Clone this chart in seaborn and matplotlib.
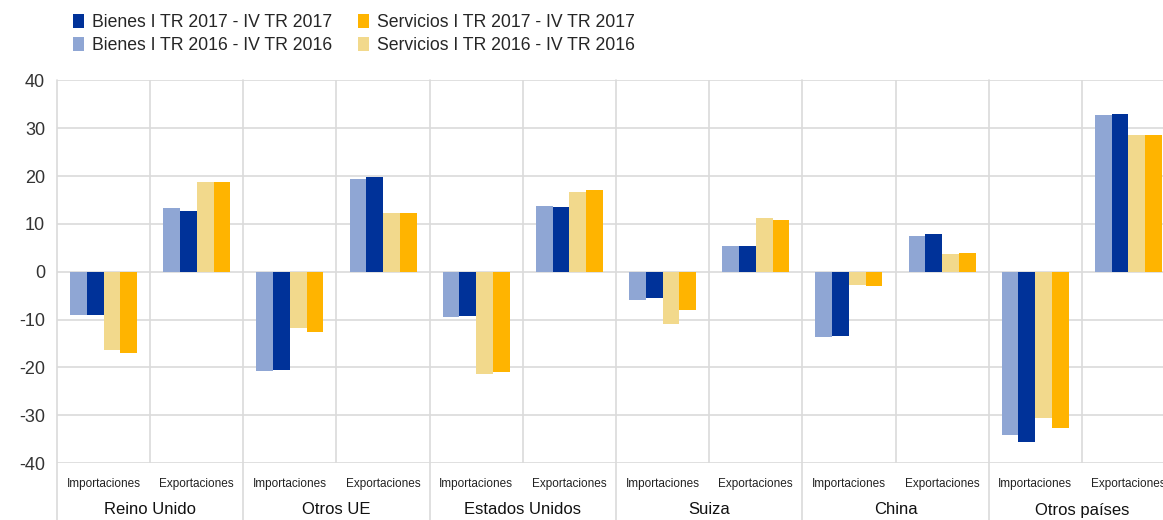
import numpy as np
import pandas as pd
import matplotlib
matplotlib.use("Agg")
import matplotlib.pyplot as plt
import matplotlib.transforms as mtransforms
import seaborn as sns

# data (% values)
countries = ["Reino Unido", "Otros UE", "Estados Unidos", "Suiza", "China", "Otros países"]
flows = ["Importaciones", "Exportaciones"]
bienes_2016 = [-9.0, 13.4, -20.7, 19.3, -9.5, 13.7, -6.0, 5.4, -13.6, 7.4, -34.1, 32.7]
bienes_2017 = [-9.0, 12.7, -20.5, 19.8, -9.3, 13.5, -5.5, 5.4, -13.4, 7.9, -35.6, 33.0]
servicios_2016 = [-16.4, 18.7, -11.8, 12.2, -21.3, 16.6, -11.0, 11.3, -2.8, 3.7, -30.5, 28.7]
servicios_2017 = [-16.9, 18.8, -12.7, 12.2, -21.0, 17.1, -8.0, 10.8, -2.9, 3.9, -32.7, 28.5]
series_names = ["Bienes I TR 2016 - IV TR 2016", "Bienes I TR 2017 - IV TR 2017",
                "Servicios I TR 2016 - IV TR 2016", "Servicios I TR 2017 - IV TR 2017"]
colors = ["#8fa6d4", "#003299", "#f2d98c", "#ffb400"]
yticks = [-40, -30, -20, -10, 0, 10, 20, 30, 40]

cats = [f"{c}|{f}" for c in countries for f in flows]
rows = []
for name, vals in zip(series_names, [bienes_2016, bienes_2017, servicios_2016, servicios_2017]):
    for cat, v in zip(cats, vals):
        rows.append({"cat": cat, "serie": name, "valor": v})
df = pd.DataFrame(rows)

sns.set_style("white")
plt.rcParams["font.family"] = ["Liberation Sans", "DejaVu Sans"]

fig = plt.figure(figsize=(11.63, 5.2), dpi=100)
ax = fig.add_axes([57 / 1163, 57 / 520, 1118 / 1163, 382.5 / 520])

sns.barplot(data=df, x="cat", y="valor", hue="serie", order=cats, hue_order=series_names,
            palette=colors, width=0.72, gap=0, saturation=1, errorbar=None, ax=ax,
            linewidth=0, zorder=3)

ax.set_xlim(-0.5, len(cats) - 0.5)
ax.set_ylim(-40, 40)
ax.set_yticks(yticks)
ax.set_yticklabels([str(t) for t in yticks], fontsize=13, color="#333333")
ax.tick_params(axis="y", length=0, pad=8.5)
ax.set_xticks([])
ax.set_xlabel("")
ax.set_ylabel("")
for s in ax.spines.values():
    s.set_visible(False)

gridc = "#dadada"
for t in yticks:
    ax.axhline(t, color=gridc, lw=1.2, zorder=1)

# group separators run down through the label area
trans = mtransforms.blended_transform_factory(ax.transData, fig.transFigure)
top = 57 / 520 + 382.5 / 520
for i in range(len(cats) + 1):
    xb = i - 0.5
    if i % 2 == 0:
        ax.plot([xb, xb], [0, top], transform=trans, color=gridc, lw=1.2, clip_on=False, zorder=1)
    else:
        ax.axvline(xb, color=gridc, lw=1.2, zorder=1)

for i, cat in enumerate(cats):
    ax.text(i, 1 - 484 / 520, cat.split("|")[1], transform=trans, ha="center", va="center",
            fontsize=8.5, color="#222222")
for j, c in enumerate(countries):
    ax.text(2 * j + 0.5, 1 - 510 / 520, c, transform=trans, ha="center", va="center",
            fontsize=12, color="#111111")

handles, labels = ax.get_legend_handles_labels()
ax.get_legend().remove()
order = [1, 0, 3, 2]
fig.legend([handles[k] for k in order], [labels[k] for k in order], ncol=2,
           loc="upper left", bbox_to_anchor=(73 / 1163, 1 - 14 / 520), frameon=False,
           fontsize=12.7, handlelength=0.62, handleheight=0.85, handletextpad=0.45,
           columnspacing=1.5, labelspacing=0.32, borderpad=0, borderaxespad=0)

fig.savefig("out.png", dpi=100)
